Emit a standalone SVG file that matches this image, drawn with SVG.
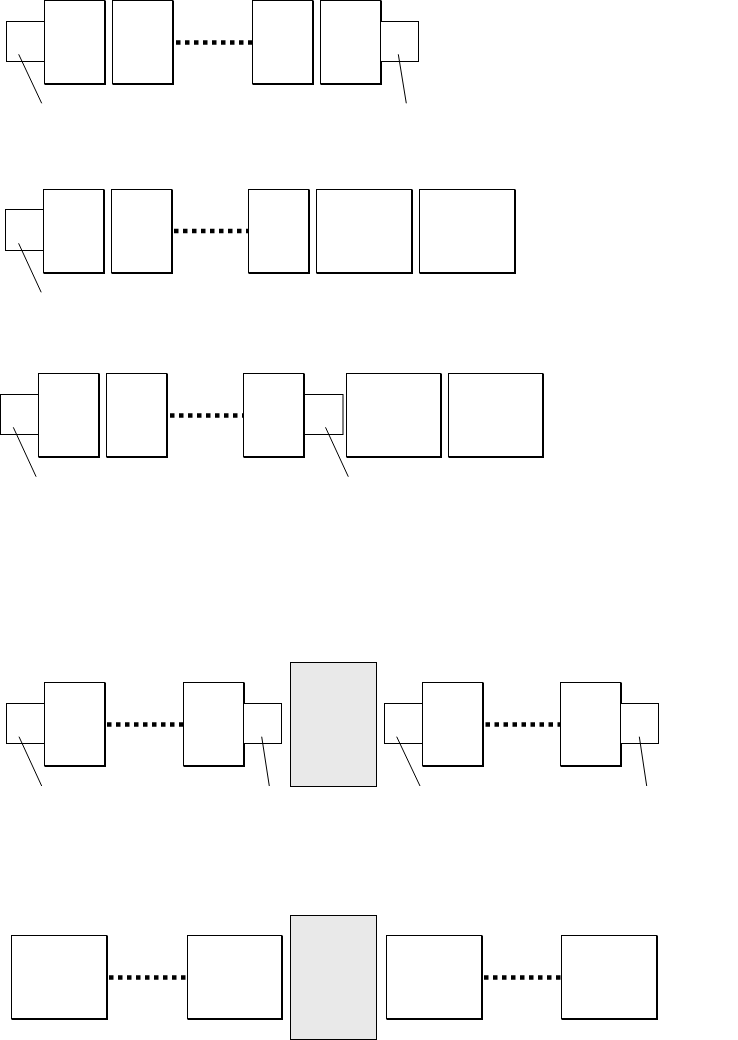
<svg xmlns="http://www.w3.org/2000/svg" width="738" height="1040" viewBox="0 0 738 1040">
<style>
.b{fill:#fff;stroke:#000;stroke-width:1}
.s{fill:#fff;stroke:#000;stroke-width:1}
.sh{fill:none;stroke:#000;stroke-width:2}
.g{fill:#e9e9e9;stroke:#000;stroke-width:1}
.d{stroke:#000;stroke-width:4.5;stroke-dasharray:4.5 4.5;fill:none}
.l{stroke:#000;stroke-width:1;fill:none}
</style>
<rect width="738" height="1040" fill="#fff"/>
<!-- Row 1 -->
<g id="r1-s1"><rect class="s" x="6.5" y="21.5" width="38" height="40"/></g>
<g id="r1-b1"><rect class="b" x="44.5" y="0.5" width="60" height="83"/><path class="sh" d="M105 0.5V84H44.5"/></g>
<g id="r1-b2"><rect class="b" x="112.5" y="0.5" width="60" height="83"/><path class="sh" d="M173 0.5V84H112.5"/></g>
<g id="r1-b3"><rect class="b" x="252.5" y="0.5" width="60" height="83"/><path class="sh" d="M313 0.5V84H252.5"/></g>
<g id="r1-b4"><rect class="b" x="320.5" y="0.5" width="60" height="83"/><path class="sh" d="M381 0.5V84H320.5"/></g>
<g id="r1-s2"><rect class="s" x="380.5" y="21.5" width="38" height="40"/></g>
<!-- Row 2 -->
<g id="r2-s1"><rect class="s" x="5.5" y="209.5" width="38" height="41"/></g>
<g id="r2-b1"><rect class="b" x="43.5" y="189.5" width="60" height="83"/><path class="sh" d="M104 189.5V273H43.5"/></g>
<g id="r2-b2"><rect class="b" x="111.5" y="189.5" width="60" height="83"/><path class="sh" d="M172 189.5V273H111.5"/></g>
<g id="r2-b3"><rect class="b" x="248.5" y="189.5" width="60" height="83"/><path class="sh" d="M309 189.5V273H248.5"/></g>
<g id="r2-b4"><rect class="b" x="316.5" y="189.5" width="95" height="83"/><path class="sh" d="M412 189.5V273H316.5"/></g>
<g id="r2-b5"><rect class="b" x="419.5" y="189.5" width="95" height="83"/><path class="sh" d="M515 189.5V273H419.5"/></g>
<!-- Row 3 -->
<g id="r3-s1"><rect class="s" x="0.5" y="394.5" width="38" height="40"/></g>
<g id="r3-b1"><rect class="b" x="38.5" y="373.5" width="60" height="83"/><path class="sh" d="M99 373.5V457H38.5"/></g>
<g id="r3-b2"><rect class="b" x="106.5" y="373.5" width="60" height="83"/><path class="sh" d="M167 373.5V457H106.5"/></g>
<g id="r3-b3"><rect class="b" x="243.5" y="373.5" width="60" height="83"/><path class="sh" d="M304 373.5V457H243.5"/></g>
<g id="r3-s2"><rect class="s" x="304.5" y="394.5" width="38.5" height="40"/></g>
<g id="r3-b4"><rect class="b" x="346.5" y="373.5" width="94" height="83"/><path class="sh" d="M441 373.5V457H346.5"/></g>
<g id="r3-b5"><rect class="b" x="448.5" y="373.5" width="94" height="83"/><path class="sh" d="M543 373.5V457H448.5"/></g>
<!-- Row 4 -->
<g id="r4-s1"><rect class="s" x="6.5" y="703.5" width="38" height="40"/></g>
<g id="r4-b1"><rect class="b" x="44.5" y="682.5" width="60" height="83"/><path class="sh" d="M105 682.5V766H44.5"/></g>
<g id="r4-b2"><rect class="b" x="183.5" y="682.5" width="60" height="83"/><path class="sh" d="M244 682.5V766H183.5"/></g>
<g id="r4-s2"><rect class="s" x="243.5" y="703.5" width="38" height="40"/></g>
<g id="r4-g"><rect class="g" x="290.5" y="662.5" width="86" height="124"/></g>
<g id="r4-s3"><rect class="s" x="384.5" y="703.5" width="38" height="40"/></g>
<g id="r4-b3"><rect class="b" x="422.5" y="682.5" width="60" height="83"/><path class="sh" d="M483 682.5V766H422.5"/></g>
<g id="r4-b4"><rect class="b" x="560.5" y="682.5" width="60" height="83"/><path class="sh" d="M621 682.5V766H560.5"/></g>
<g id="r4-s4"><rect class="s" x="620.5" y="703.5" width="38" height="40"/></g>
<!-- Row 5 -->
<g id="r5-b1"><rect class="b" x="11.5" y="935.5" width="95" height="83"/><path class="sh" d="M107 935.5V1019H11.5"/></g>
<g id="r5-b2"><rect class="b" x="187.5" y="935.5" width="94" height="83"/><path class="sh" d="M282 935.5V1019H187.5"/></g>
<g id="r5-g"><rect class="g" x="290.5" y="915.5" width="86" height="124"/></g>
<g id="r5-b3"><rect class="b" x="386.5" y="935.5" width="95" height="83"/><path class="sh" d="M482 935.5V1019H386.5"/></g>
<g id="r5-b4"><rect class="b" x="561.5" y="935.5" width="95" height="83"/><path class="sh" d="M657 935.5V1019H561.5"/></g>
<!-- connectors -->
<g id="connectors">
<path class="d" d="M176 42.5H252"/>
<path class="d" d="M174 231H248"/>
<path class="d" d="M170 415.5H243"/>
<path class="d" d="M107 724.5H183"/>
<path class="d" d="M485.5 724.5H560"/>
<path class="d" d="M109 977.5H187"/>
<path class="d" d="M484 977.5H561"/>
<path class="l" d="M18.7 54.3L41.7 103.3"/>
<path class="l" d="M398.3 54.3L406.3 103.3"/>
<path class="l" d="M18.6 243.3L41.2 292.3"/>
<path class="l" d="M13.3 427.3L36.1 476.7"/>
<path class="l" d="M325.5 427.3L348.3 476.7"/>
<path class="l" d="M19 736.7L41.7 786"/>
<path class="l" d="M261.7 736.7L269.3 786"/>
<path class="l" d="M396.7 736.7L420 786"/>
<path class="l" d="M639.3 736.7L646.7 786"/>
</g>
</svg>
